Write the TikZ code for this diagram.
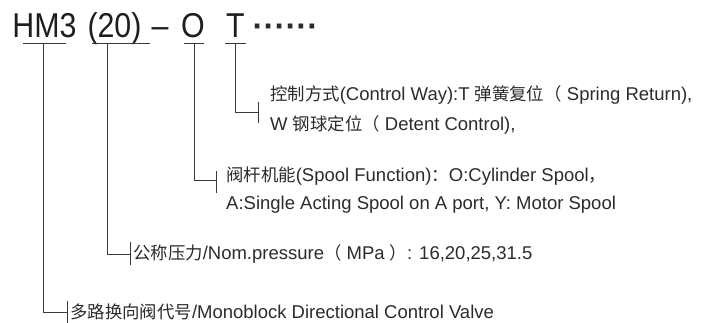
\documentclass[tikz,border=0pt]{standalone}
\usepackage{fontspec}
\setmainfont{Liberation Sans}
\newfontfamily\cjk{Noto Sans CJK SC}
\newfontfamily\ttlfont[FakeStretch=0.88]{Liberation Sans}
\definecolor{txt}{HTML}{2B2B2B}
\definecolor{lncol}{HTML}{3A3A3A}
\definecolor{ttl}{HTML}{1E1E1E}
\newcommand\zh[1]{{\cjk\fontsize{17.4}{20}\selectfont #1}}
\begin{document}
\begin{tikzpicture}[x=1pt,y=-1pt,
  lbl/.style={anchor=base west, inner sep=0pt, text=txt, font=\fontsize{18.5}{21}\selectfont},
  ttlbox/.style={anchor=base, inner sep=0pt, text=ttl, font=\ttlfont\fontsize{34.5}{40}\selectfont},
  ln/.style={draw=lncol, line width=0.9pt}]
\useasboundingbox (0,0) rectangle (701,323);
% title
\node[ttlbox] (hm) at (44.5,38) {HM3};
\node[ttlbox] (pr) at (114.5,38) {(20)};
\node[ttlbox] (da) at (160,38) {–};
\node[ttlbox] (oo) at (193,38) {O};
\node[ttlbox] (tt) at (235.5,38) {T};
\node[ttlbox, text=txt, font=\bfseries\fontsize{33}{40}\selectfont] (dots) at (285.5,38) {······};
% labels
\node[lbl] (t1) at (270,100.5) {\zh{控制方式}(Control Way):T \zh{弹簧复位（} Spring Return),};
\node[lbl] (t2) at (270,130.5) {W \zh{钢球定位（} Detent Control),};
\node[lbl] (o1) at (226,181.5) {\zh{阀杆机能}(Spool Function)\zh{：}O:Cylinder Spool\zh{，}};
\node[lbl] (o2) at (226,209.5) {A:Single Acting Spool on A port, Y: Motor Spool};
\node[lbl] (p1) at (133,259.5) {\zh{公称压力}/Nom.pressure\zh{（} MPa \zh{）}: 16,20,25,31.5};
\node[lbl] (m1) at (70,318.5) {\zh{多路换向阀代号}/Monoblock Directional Control Valve};
% underlines
\coordinate (hmL) at (23,43);  \coordinate (hmR) at (66,43);
\coordinate (prL) at (92,43);  \coordinate (prR) at (150,43);
\coordinate (ooL) at (184,43); \coordinate (ooR) at (204,43);
\coordinate (ttL) at (225,43); \coordinate (ttR) at (246,43);
\draw[ln] (hmL) -- (hmR);
\draw[ln] (prL) -- (prR);
\draw[ln] (ooL) -- (ooR);
\draw[ln] (ttL) -- (ttR);
% leaders
\coordinate (hmTop) at (43,43);  \coordinate (hmEnd) at (67,312);
\coordinate (prTop) at (107,43); \coordinate (prEnd) at (130,254);
\coordinate (ooTop) at (194,43); \coordinate (ooEnd) at (216,180);
\coordinate (ttTop) at (235,43); \coordinate (ttEnd) at (258,112);
\draw[ln] (hmTop) |- (hmEnd);
\draw[ln] (prTop) |- (prEnd);
\draw[ln] (ooTop) |- (ooEnd);
\draw[ln] (ttTop) |- (ttEnd);
% ticks
\draw[ln] ([yshift=11pt]hmEnd) -- ([yshift=-11pt]hmEnd);
\draw[ln] ([yshift=12pt]prEnd) -- ([yshift=-11pt]prEnd);
\draw[ln] ([yshift=9pt]ooEnd) -- ([yshift=-13pt]ooEnd);
\draw[ln] ([yshift=10pt]ttEnd) -- ([yshift=-11pt]ttEnd);
\end{tikzpicture}
\end{document}
